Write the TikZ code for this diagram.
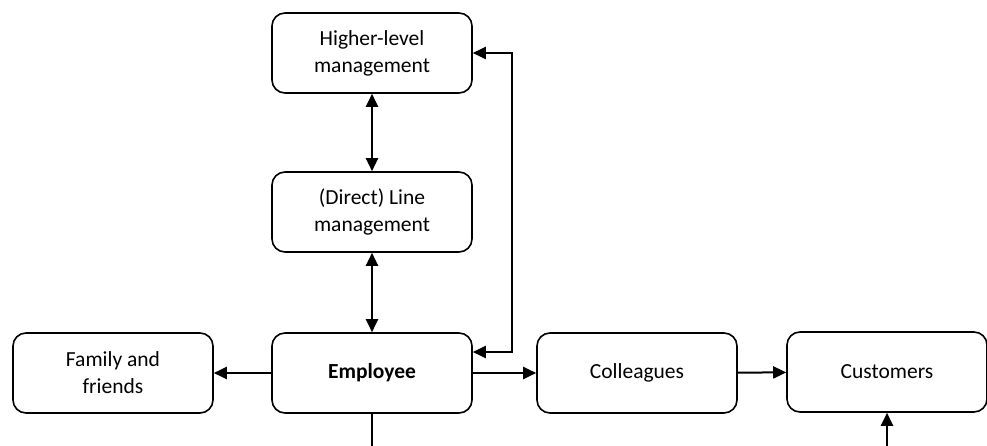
\documentclass[tikz,border=0pt]{standalone}
\usepackage{fontspec}
\setmainfont{Carlito}
\usetikzlibrary{arrows.meta}
\begin{document}
\begin{tikzpicture}[x=1pt,y=-1pt,
  box/.style={draw=black, line width=1.6pt, rounded corners=13pt, minimum width=200pt, minimum height=80pt, align=center, font=\fontsize{21.5}{27}\selectfont, inner sep=0pt},
  conn/.style={line width=2pt, -{Triangle[length=13pt,width=12pt]}},
  conn2/.style={line width=2pt, {Triangle[length=13pt,width=12pt]}-{Triangle[length=13pt,width=12pt]}}]
\useasboundingbox (0,0) rectangle (987,446);
\node[box] (hl) at (372,53) {Higher-level\\management};
\node[box] (lm) at (372,212) {(Direct) Line\\management};
\node[box] (emp) at (372,373) {\textbf{Employee}};
\node[box] (fam) at (113,373) {Family and\\friends};
\node[box] (col) at (637,373) {Colleagues};
\node[box] (cus) at (887,372) {Customers};
\coordinate (fb1) at (512,352);
\coordinate (fb2) at (512,53);
\coordinate (bot1) at (372,446);
\coordinate (bot2) at (887,446);
\draw[conn2] (hl) -- (lm);
\draw[conn2] (lm) -- (emp);
\draw[conn2] (emp.east |- fb1) -- (fb1) -- (fb2) -- (hl.east |- fb2);
\draw[conn] (emp) -- (fam);
\draw[conn] (emp) -- (col);
\draw[conn] (col) -- (cus);
\draw[line width=2pt] (emp) -- (bot1);
\draw[conn] (bot2) -- (cus);
\end{tikzpicture}
\end{document}
